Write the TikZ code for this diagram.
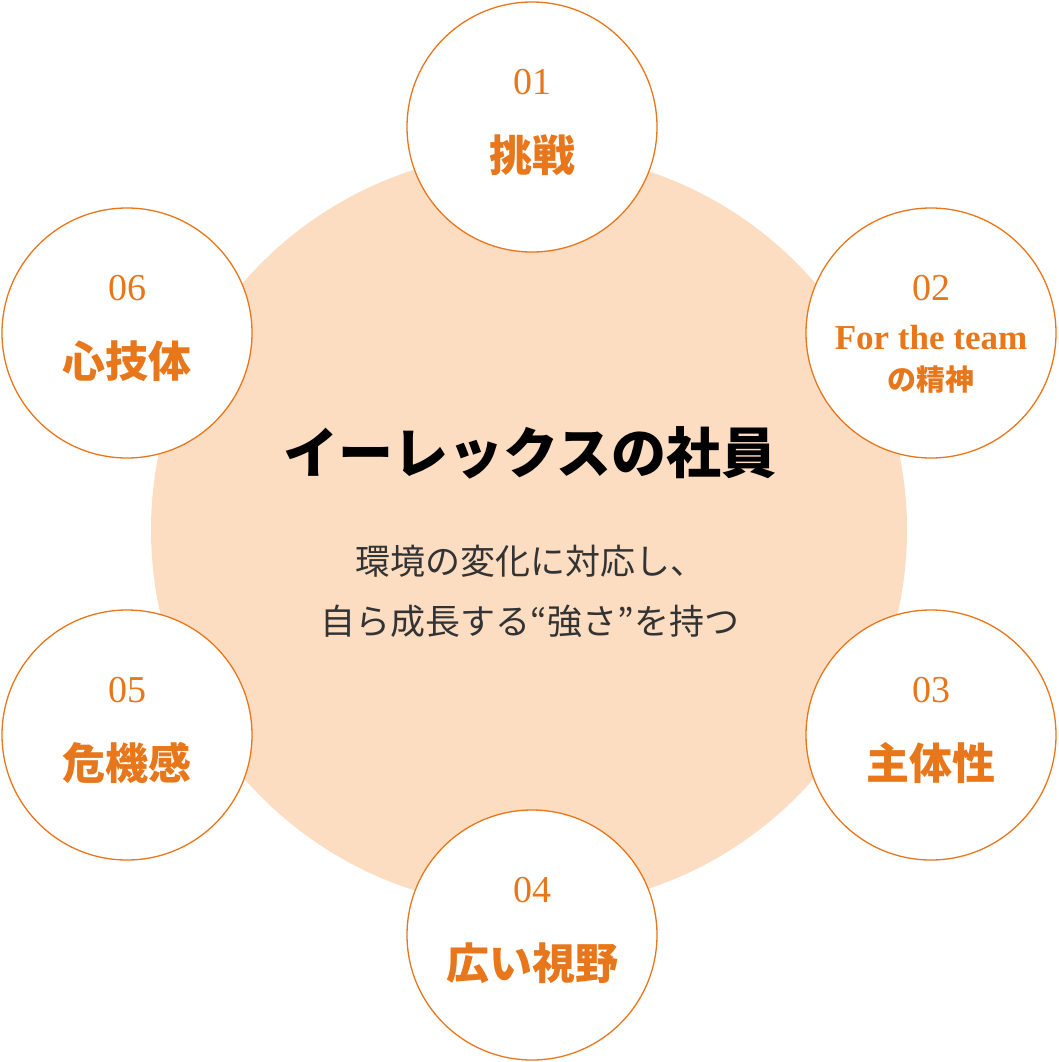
\documentclass[tikz,border=0pt]{standalone}
\usepackage{fontspec}
\setmainfont{Liberation Serif}
\newfontfamily\cjk{Noto Sans CJK JP}
\definecolor{org}{HTML}{E8761A}
\definecolor{peach}{HTML}{FCDDC2}
\definecolor{txt}{HTML}{333333}
\begin{document}
\begin{tikzpicture}[x=1pt,y=-1pt,
  sm/.style={circle,draw=org,fill=white,line width=1.3pt,minimum size=250pt,inner sep=0pt},
  num/.style={text=org,font=\fontsize{38}{40}\selectfont},
  lab/.style={text=org,font=\cjk\bfseries\fontsize{43}{46}\selectfont,align=center}]
\useasboundingbox (0,0) rectangle (1058,1062);
\node[circle,fill=peach,minimum size=756pt,inner sep=0pt] (big) at (529,530) {};
\node[sm] (c1) at (532,127) {};
\node[sm] (c2) at (931,333) {};
\node[sm] (c3) at (931,735) {};
\node[sm] (c4) at (532,935) {};
\node[sm] (c5) at (127,735) {};
\node[sm] (c6) at (127,333) {};
\foreach \c/\n in {c1/01,c2/02,c3/03,c4/04,c5/05,c6/06}{
  \node[num] (n\c) at ([yshift=45pt]\c.center) {\n};}
\node[lab] (l1) at ([yshift=-28pt]c1.center) {挑戦};
\node[lab,font=\bfseries\fontsize{35}{38}\selectfont] (l2a) at ([yshift=-5pt]c2.center) {For the team};
\node[lab,font=\cjk\bfseries\fontsize{29}{32}\selectfont] (l2b) at ([yshift=-47pt]c2.center) {の精神};
\node[lab] (l3) at ([yshift=-28pt]c3.center) {主体性};
\node[lab] (l4) at ([yshift=-28pt]c4.center) {広い視野};
\node[lab] (l5) at ([yshift=-28pt]c5.center) {危機感};
\node[lab] (l6) at ([yshift=-28pt]c6.center) {心技体};
\node[font=\cjk\bfseries\fontsize{55}{60}\selectfont,text=black] (title) at (530,453) {イーレックスの社員};
\node[font=\cjk\fontsize{35}{60}\selectfont,text=txt,align=center] (sub) at (530,591) {環境の変化に対応し、\\自ら成長する“強さ”を持つ};
\end{tikzpicture}
\end{document}
